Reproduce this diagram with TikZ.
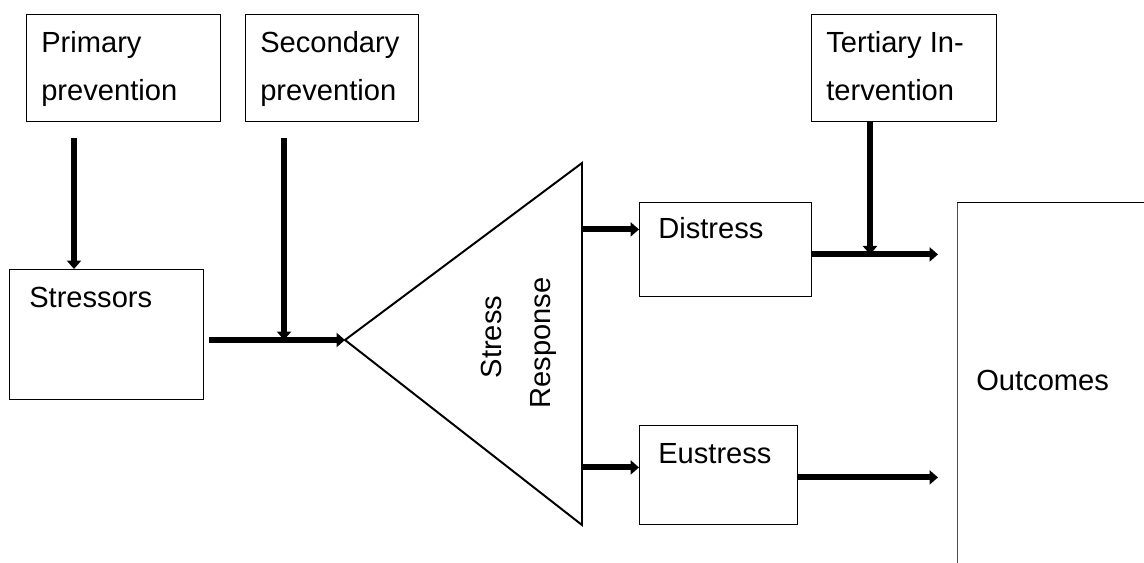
\documentclass[tikz,border=0pt]{standalone}
\usepackage{fontspec}
\setmainfont{Liberation Sans}
\usetikzlibrary{arrows.meta,calc}

\tikzset{
  box/.style={draw, line width=0.6pt, inner sep=0pt, anchor=north west},
  txt/.style={anchor=base west, inner sep=0pt, font=\fontsize{20.7}{25}\selectfont},
  arr/.style={line width=4.3pt, -{Triangle[length=6pt,width=10pt]}},
}

\begin{document}
\begin{tikzpicture}[x=0.025cm, y=-0.025cm]
\useasboundingbox (0,0) rectangle (1144,563);

% Draw the boxes
\node[box, minimum width=4.85cm, minimum height=2.675cm] (prim) at (26,14) {};
\node[box, minimum width=4.325cm, minimum height=2.675cm] (sec) at (245,14) {};
\node[box, minimum width=4.625cm, minimum height=2.675cm] (tert) at (811,14) {};
\node[box, minimum width=4.85cm, minimum height=3.25cm] (stress) at (9,269) {};
\node[box, minimum width=4.3cm, minimum height=2.35cm] (dist) at (639,202) {};
\node[box, minimum width=3.95cm, minimum height=2.475cm] (eu) at (639,425) {};
\node[box, draw=none, minimum width=5cm, minimum height=9.5cm] (outc) at (957,202) {};
\draw[line width=0.6pt, black!70] (outc.south west) -- (outc.north west);
\draw[line width=0.6pt] (outc.north west) -- (outc.north east);

% The triangle
\coordinate (tip) at (345,340);
\coordinate (tr) at (582,163);
\coordinate (br) at (582,525);
\draw[line width=1.4pt, line join=miter] (tip) -- (tr) -- (br) -- cycle;

% Insert the texts
\node[txt] (prim1) at (41,53) {Primary};
\node[txt] (prim2) at (41,101) {prevention};
\node[txt] (sec1) at (260,53) {Secondary};
\node[txt] (sec2) at (260,101) {prevention};
\node[txt] (tert1) at (826,53) {Tertiary In-};
\node[txt] (tert2) at (826,101) {tervention};
\node[txt] (stress1) at (29,308) {Stressors};
\node[txt] (dist1) at (658,239) {Distress};
\node[txt] (eu1) at (658,463) {Eustress};
\node[txt] (outc1) at (976,391) {Outcomes};
\node[txt, anchor=base, rotate=90] (resp1) at (501,337) {Stress};
\node[txt, anchor=base, rotate=90] (resp2) at (550,343) {Response};

% Draw the arrows
\coordinate (p0) at ([shift={(48,16)}]prim.south west);
\draw[arr] (p0) -- (p0 |- stress.north);
\draw[arr] ([xshift=0.125cm]tip -| stress.east) -- (tip);
\coordinate (s0) at ([shift={(39,16)}]sec.south west);
\draw[arr] (s0) -- (s0 |- tip);
\coordinate (din) at ([yshift=0.5cm]dist.west);
\coordinate (ein) at ([yshift=0.1875cm]eu.west);
\draw[arr] (din -| tr) -- (din);
\draw[arr] (ein -| tr) -- (ein);
\coordinate (dout) at ([yshift=-0.125cm]dist.east);
\coordinate (eout) at ([yshift=-0.0625cm]eu.east);
\draw[arr] (dout) -- ([xshift=-0.475cm]dout -| outc.west);
\draw[arr] (eout) -- ([xshift=-0.475cm]eout -| outc.west);
\coordinate (t0) at ([xshift=1.475cm]tert.south west);
\draw[arr] (t0) -- (t0 |- dout);
\end{tikzpicture}
\end{document}
